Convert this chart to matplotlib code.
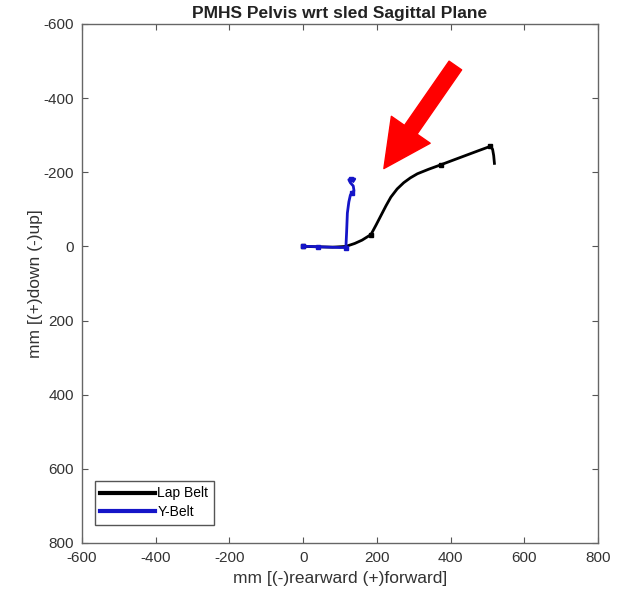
import matplotlib
matplotlib.use("Agg")
import matplotlib.pyplot as plt

plt.rcParams['font.family'] = ['Liberation Sans', 'DejaVu Sans']

title = "PMHS Pelvis wrt sled Sagittal Plane"
xlabel = "mm [(-)rearward (+)forward]"
ylabel = "mm [(+)down (-)up]"
xticks = [-600, -400, -200, 0, 200, 400, 600, 800]
yticks = [-600, -400, -200, 0, 200, 400, 600, 800]

lap_x = [0, 40, 80, 116, 140, 160, 184, 198, 212, 225, 238, 255, 273, 291, 310, 340, 373, 405, 440, 475, 508, 514, 517, 519]
lap_y = [0, 1, 2, 0, -8, -17, -32, -58, -85, -110, -133, -155, -172, -185, -196, -208, -220, -232, -245, -258, -270, -262, -245, -224]
lap_markers = [0, 6, 16, 20]

y_x = [0, 20, 40, 70, 100, 116, 118, 120, 124, 128, 132, 138, 136, 128, 124, 130, 140, 136]
y_y = [0, 0, 1, 2, 3, 3, -40, -90, -120, -138, -145, -150, -163, -172, -180, -182, -182, -176]
y_markers = [0, 2, 5, 10, 15]

arrow_tail = (413, -488)
arrow_tip = (219, -210)

fig = plt.figure(figsize=(6.25, 5.94), dpi=100)
ax = fig.add_axes([0.1312, 0.0859, 0.8256, 0.8737])

ax.plot(lap_x, lap_y, color='black', lw=2.0, label='Lap Belt', zorder=3)
ax.plot([lap_x[i] for i in lap_markers], [lap_y[i] for i in lap_markers], 's',
        color='black', ms=3.5, zorder=3)
ax.plot(y_x, y_y, color='#1515c8', lw=2.0, label='Y-Belt', zorder=4)
ax.plot([y_x[i] for i in y_markers], [y_y[i] for i in y_markers], 's',
        color='#1515c8', ms=3.5, zorder=4)

ax.annotate('', xy=arrow_tip, xytext=arrow_tail,
            arrowprops=dict(arrowstyle='simple,head_length=1.7,head_width=1.7,tail_width=0.55',
                            color='#ff0000', mutation_scale=20, shrinkA=0, shrinkB=0),
            zorder=5)

ax.set_xlim(-600, 800)
ax.set_ylim(800, -600)
ax.set_xticks(xticks)
ax.set_yticks(yticks)
ax.set_xticklabels([str(v) for v in xticks])
ax.set_yticklabels([str(v) for v in yticks])
ax.tick_params(direction='in', top=True, right=True, length=4, width=0.8,
               colors='#555555', labelcolor='#333333', labelsize=11, pad=6)
for s in ax.spines.values():
    s.set_color('#666666')
    s.set_linewidth(1.0)

ax.set_title(title, fontsize=12.5, fontweight='bold', color='#222222', pad=4)
ax.set_xlabel(xlabel, fontsize=12.5, color='#333333', labelpad=4)
ax.set_ylabel(ylabel, fontsize=12.5, color='#333333', labelpad=0)

leg = ax.legend(loc='lower left', bbox_to_anchor=(0.025, 0.035), fontsize=10,
                handlelength=3.9, handletextpad=0.2, borderpad=0.4,
                labelspacing=0.35, borderaxespad=0, fancybox=False, framealpha=1,
                edgecolor='#555555')
for line in leg.get_lines():
    line.set_linewidth(3)
leg.get_frame().set_linewidth(1.0)

fig.savefig('out.png', dpi=100)
